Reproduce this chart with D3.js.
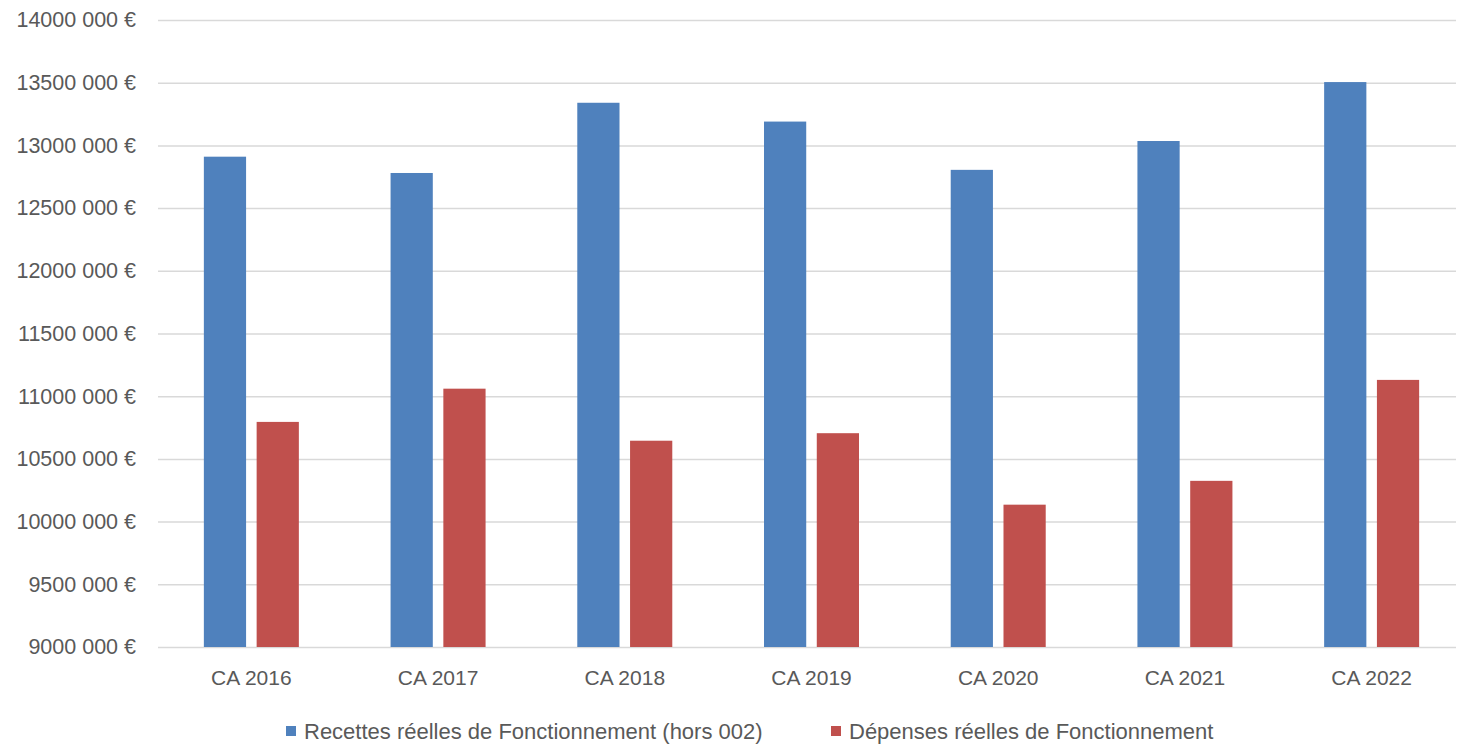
<!DOCTYPE html>
<html>
  <head>
    <meta charset="utf-8">
    <title>CA 2016-2022</title>
    <script src="https://cdn.jsdelivr.net/npm/d3@7/dist/d3.min.js"></script>
    <style>
      body { margin: 0; background: #fff; }
      text { font-family: "Liberation Sans", Arial, sans-serif; fill: #595959; }
    </style>
  </head>
  <body>
    <svg width="1458" height="745" id="mainsvg"></svg>
    <script>
        // données
        const categories = ['CA 2016', 'CA 2017', 'CA 2018', 'CA 2019', 'CA 2020', 'CA 2021', 'CA 2022'];
        const seriesNames = ['Recettes réelles de Fonctionnement (hors 002)', 'Dépenses réelles de Fonctionnement'];
        const recettes = [12910000, 12780000, 13340000, 13190000, 12805000, 13035000, 13505000];
        const depenses = [10795000, 11060000, 10645000, 10705000, 10135000, 10325000, 11130000];
        const yTicks = [9000000, 9500000, 10000000, 10500000, 11000000, 11500000, 12000000, 12500000, 13000000, 13500000, 14000000];
        const colors = ['#4f81bd', '#c0504d'];

        const svg = d3.select('#mainsvg');
        const margin = {top: 20, right: 2, bottom: 98, left: 158};
        const width = +svg.attr('width');
        const height = +svg.attr('height');
        const innerWidth = width - margin.left - margin.right;
        const innerHeight = height - margin.top - margin.bottom;
        const bandWidthAll = 1307; // les catégories débordent un peu à droite de la grille

        const g = svg.append('g').attr('transform', `translate(${margin.left},${margin.top})`);

        const x0 = d3.scaleBand().domain(categories).range([0, bandWidthAll]).padding(0);
        const bw = x0.bandwidth();
        const groupW = 95;
        const x1 = d3.scaleBand().domain([0, 1])
            .range([(bw - groupW) / 2, (bw + groupW) / 2])
            .paddingInner(0.2).paddingOuter(0);
        const y = d3.scaleLinear().domain([9000000, 14000000]).range([innerHeight, 0]);

        const fmt = v => d3.format(',')(v).replace(/^(\d+),(\d{3}),(\d{3})$/, '$1$2 $3') + ' €';

        // grille + axe y
        const yAxis = g.append('g')
            .call(d3.axisLeft(y).tickValues(yTicks).tickSize(-innerWidth).tickPadding(22).tickFormat(fmt));
        yAxis.select('.domain').remove();
        yAxis.selectAll('.tick line').attr('stroke', '#d9d9d9').attr('stroke-width', 1.5);
        yAxis.selectAll('.tick text').style('font-size', '21.5px').attr('fill', '#595959');

        // barres
        const data = categories.map((c, i) => ({cat: c, vals: [recettes[i], depenses[i]]}));
        const groups = g.selectAll('.grp').data(data).enter().append('g')
            .attr('class', 'grp')
            .attr('transform', d => `translate(${x0(d.cat)},0)`);
        groups.selectAll('rect').data(d => d.vals.map((v, k) => ({k, v}))).enter().append('rect')
            .attr('x', d => x1(d.k))
            .attr('width', x1.bandwidth())
            .attr('y', d => y(d.v))
            .attr('height', d => innerHeight - y(d.v))
            .attr('fill', d => colors[d.k]);

        // axe x
        const xAxis = g.append('g').attr('transform', `translate(0,${innerHeight})`)
            .call(d3.axisBottom(x0).tickSize(0).tickPadding(23));
        xAxis.select('.domain').remove();
        xAxis.selectAll('.tick text').style('font-size', '21px').attr('fill', '#595959');

        // légende
        const legendX = [286, 831];
        const legend = svg.selectAll('.legend').data(seriesNames).enter().append('g')
            .attr('class', 'legend')
            .attr('transform', (d, i) => `translate(${legendX[i]},726)`);
        legend.append('rect').attr('width', 10).attr('height', 10).attr('fill', (d, i) => colors[i]);
        legend.append('text').attr('x', 18).attr('y', 5).attr('dy', '0.35em')
            .style('font-size', '22px').text(d => d);
    </script>
  </body>
</html>
